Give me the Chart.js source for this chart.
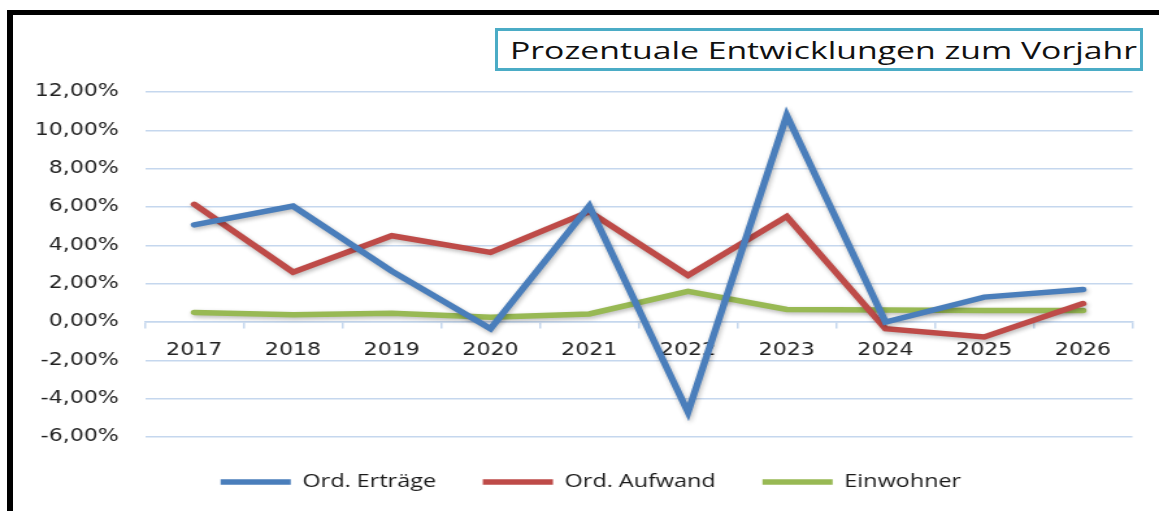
<!DOCTYPE html>
<html>
<head>
<meta charset="utf-8">
<script src="https://cdn.jsdelivr.net/npm/chart.js@4/dist/chart.umd.min.js"></script>
<style>
  html, body { margin: 0; padding: 0; background: #fff; overflow: hidden; width: 1159px; height: 511px; }
  #frame { position: absolute; left: 7px; top: 10px; width: 1300px; height: 700px; border-left: 6px solid #000; border-top: 5px solid #000; box-sizing: border-box; }
  #c { position: absolute; left: 0; top: 0; }
  #title { position: absolute; left: 495px; top: 28px; width: 648px; height: 43px; box-sizing: border-box; border: 3px solid #4bacc6; background: #fff; overflow: hidden; }
  #title span { position: absolute; left: 12px; top: 3px; font-family: "Open Sans", sans-serif; font-size: 23px; color: #111; white-space: nowrap; transform-origin: left center; display: inline-block; }
</style>
</head>
<body>
<div id="frame"></div>
<canvas id="c" width="892" height="511" style="width:1159px;height:511px;"></canvas>
<div id="title"><span id="titleText">Prozentuale Entwicklungen zum Vorjahr</span></div>
<script>
// ---- data ----
const years = ['2017', '2018', '2019', '2020', '2021', '2022', '2023', '2024', '2025', '2026'];
const ordErtraege = [5.07, 6.05, 2.65, -0.35, 6.05, -4.70, 10.78, 0.00, 1.30, 1.70];
const ordAufwand = [6.14, 2.60, 4.50, 3.63, 5.76, 2.43, 5.51, -0.35, -0.78, 0.96];
const einwohner = [0.50, 0.38, 0.45, 0.25, 0.42, 1.60, 0.65, 0.63, 0.60, 0.60];
const seriesNames = ['Ord. Erträge', 'Ord. Aufwand', 'Einwohner'];
const yMin = -6, yMax = 12, yStep = 2;

// fit title text horizontally to the box (reference is horizontally stretched)
const tt = document.getElementById('titleText');
const natural = tt.getBoundingClientRect().width;
tt.style.transform = 'scaleX(' + (627 / natural) + ')';

const shadowPlugin = {
  id: 'lineShadow',
  beforeDatasetsDraw(chart) {
    const ctx = chart.ctx;
    ctx.save();
    ctx.shadowColor = 'rgba(0,0,0,0.28)';
    ctx.shadowBlur = 4;
    ctx.shadowOffsetX = 1;
    ctx.shadowOffsetY = 2;
  },
  afterDatasetsDraw(chart) {
    chart.ctx.restore();
  }
};

// nudge the legend block so it sits where the reference has it
const legendShift = {
  id: 'legendShift',
  afterLayout(chart) {
    if (chart.legend) {
      chart.legend.left += 14;
      chart.legend.right += 14;
    }
  }
};

const colors = ['#4a7ebb', '#be4b48', '#98b954'];
const values = [ordErtraege, ordAufwand, einwohner];

new Chart(document.getElementById('c'), {
  type: 'line',
  data: {
    labels: years,
    datasets: seriesNames.map((name, i) => ({
      label: name,
      data: values[i],
      borderColor: colors[i],
      backgroundColor: colors[i],
      borderWidth: 5.5,
      borderCapStyle: 'round',
      borderJoinStyle: 'miter',
      pointRadius: 0,
      pointHoverRadius: 0,
      tension: 0,
      fill: false
    }))
  },
  plugins: [shadowPlugin, legendShift],
  options: {
    responsive: false,
    devicePixelRatio: 1,
    animation: false,
    layout: { padding: { left: 10, right: 20.5, top: 92, bottom: 10 } },
    plugins: {
      title: { display: false },
      tooltip: { enabled: false },
      legend: {
        position: 'bottom',
        labels: {
          usePointStyle: true,
          pointStyle: 'line',
          pointStyleWidth: 54,
          boxHeight: 5,
          padding: 36,
          color: '#1a1a1a',
          font: { family: '"Open Sans", sans-serif', size: 18 }
        }
      }
    },
    scales: {
      x: {
        type: 'category',
        position: { y: 0 },
        offset: true,
        grid: {
          offset: true,
          drawOnChartArea: false,
          drawTicks: true,
          tickLength: 6,
          color: '#c5d7ee',
          lineWidth: 1.5
        },
        border: { display: true, color: '#c5d7ee', width: 1.5 },
        ticks: {
          padding: 12,
          color: '#222',
          maxRotation: 0,
          font: { family: '"DejaVu Sans", sans-serif', size: 17 }
        }
      },
      y: {
        min: yMin,
        max: yMax,
        afterFit(scale) { scale.width = 101.5; },
        grid: {
          drawTicks: false,
          tickLength: 0,
          color: '#c5d7ee',
          lineWidth: 1.5
        },
        border: { display: false },
        ticks: {
          stepSize: yStep,
          padding: 20,
          color: '#222',
          font: { family: '"DejaVu Sans", sans-serif', size: 17 },
          callback: (v) => v.toFixed(2).replace('.', ',') + '%'
        }
      }
    }
  }
});
</script>
</body>
</html>
